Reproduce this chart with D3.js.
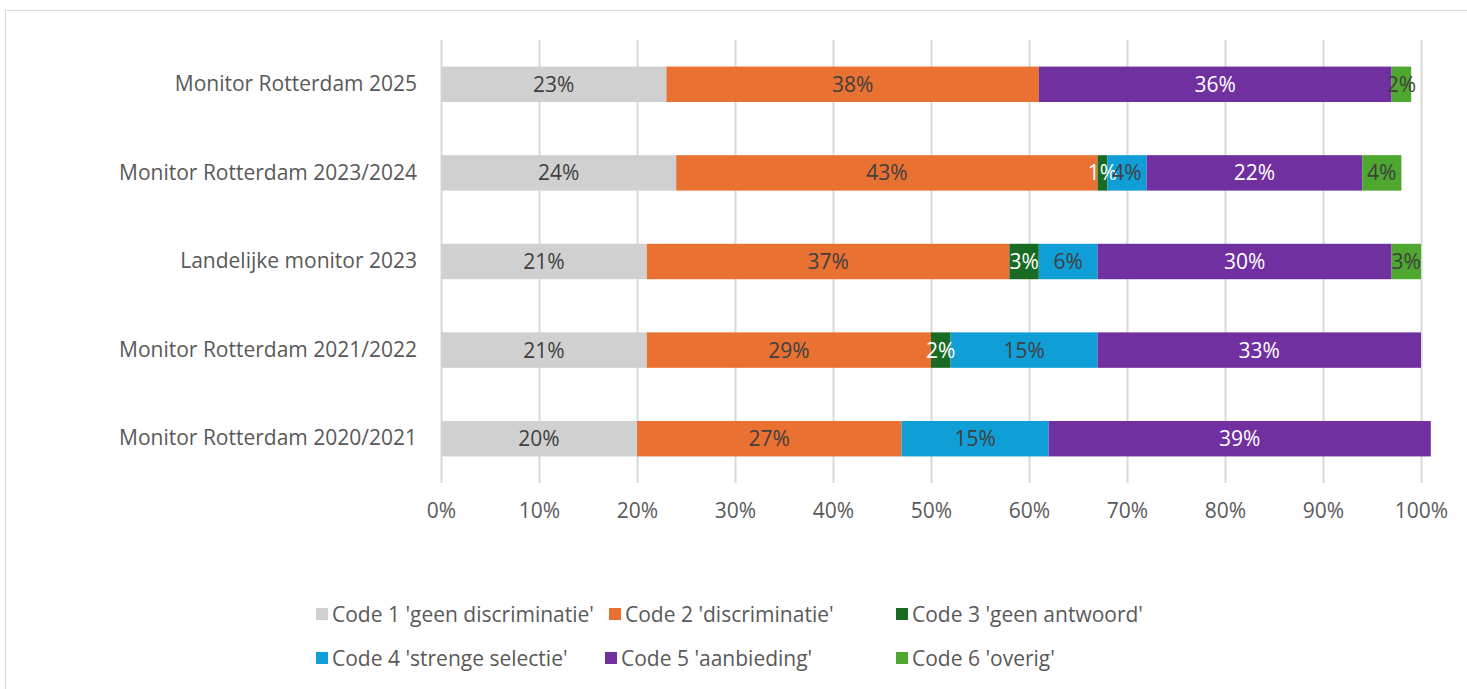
<!DOCTYPE html>
<html>
<head>
<meta charset="utf-8">
<script src="https://cdn.jsdelivr.net/npm/d3@7"></script>
<style>
  html, body { margin: 0; padding: 0; background: #fff; }
  svg { display: block; }
  text { font-family: "Open Sans", Lato, sans-serif; }
</style>
</head>
<body>
<svg id="chart" width="1467" height="689"></svg>
<script>
// Survey outcomes per monitor round (percent of responses)
const categories = [
  "Monitor Rotterdam 2025",
  "Monitor Rotterdam 2023/2024",
  "Landelijke monitor 2023",
  "Monitor Rotterdam 2021/2022",
  "Monitor Rotterdam 2020/2021"
];
const seriesNames = [
  "Code 1 'geen discriminatie'",
  "Code 2 'discriminatie'",
  "Code 3 'geen antwoord'",
  "Code 4 'strenge selectie'",
  "Code 5 'aanbieding'",
  "Code 6 'overig'"
];
const code1 = [23, 24, 21, 21, 20];
const code2 = [38, 43, 37, 29, 27];
const code3 = [0, 1, 3, 2, 0];
const code4 = [0, 4, 6, 15, 15];
const code5 = [36, 22, 30, 33, 39];
const code6 = [2, 4, 3, 0, 0];
const xTicks = [0, 10, 20, 30, 40, 50, 60, 70, 80, 90, 100];

const colors = ["#D0D0D0", "#E97132", "#196B24", "#0F9ED5", "#7030A0", "#4EA72E"];
const labelColors = ["#404040", "#404040", "#ffffff", "#404040", "#ffffff", "#404040"];

const FONT = "'Open Sans', Lato, sans-serif";
const FS = "21px";

const seriesValues = [code1, code2, code3, code4, code5, code6];
const rows = categories.map((c, i) => {
  const r = { category: c };
  seriesNames.forEach((s, j) => { r[s] = seriesValues[j][i]; });
  return r;
});

const svg = d3.select("#chart");

// outer chart frame
svg.append("rect")
  .attr("x", 5.5).attr("y", 10.5)
  .attr("width", 1466).attr("height", 690)
  .attr("fill", "none").attr("stroke", "#D9D9D9").attr("stroke-width", 1);

const plot = { left: 441, right: 1421, top: 40, bottom: 483 };

const x = d3.scaleLinear().domain([0, 100]).range([plot.left, plot.right]);
const y = d3.scaleBand().domain(categories).range([plot.top, plot.bottom]).paddingInner(0.6).paddingOuter(0.3);

// vertical gridlines
svg.append("g")
  .selectAll("line")
  .data(xTicks)
  .join("line")
  .attr("x1", d => Math.round(x(d)) + 0.5)
  .attr("x2", d => Math.round(x(d)) + 0.5)
  .attr("y1", plot.top).attr("y2", plot.bottom)
  .attr("stroke", "#D9D9D9").attr("stroke-width", 2);

// x axis labels
const xAxis = d3.axisBottom(x).tickValues(xTicks).tickFormat(d => d + "%").tickSize(0).tickPadding(20);
const xg = svg.append("g").attr("transform", `translate(0,${plot.bottom})`).call(xAxis);
xg.select(".domain").remove();
xg.selectAll("text").attr("fill", "#595959").style("font-size", FS).style("font-family", FONT);

// y axis labels
const yAxis = d3.axisLeft(y).tickSize(0).tickPadding(24);
const yg = svg.append("g").attr("transform", `translate(${plot.left},0)`).call(yAxis);
yg.select(".domain").remove();
yg.selectAll("text").attr("fill", "#595959").style("font-size", FS).style("font-family", FONT);

// stacked bars
const stack = d3.stack().keys(seriesNames);
const stacked = stack(rows);

const layers = svg.append("g").selectAll("g")
  .data(stacked)
  .join("g")
  .attr("fill", (d, i) => colors[i]);

layers.selectAll("rect")
  .data(d => d.filter(s => s[1] - s[0] > 0))
  .join("rect")
  .attr("x", d => x(d[0]))
  .attr("y", d => y(d.data.category))
  .attr("width", d => x(d[1]) - x(d[0]))
  .attr("height", y.bandwidth());

// value labels
stacked.forEach((layer, i) => {
  svg.append("g").selectAll("text")
    .data(layer.filter(s => s[1] - s[0] > 0))
    .join("text")
    .attr("x", d => (x(d[0]) + x(d[1])) / 2)
    .attr("y", d => y(d.data.category) + y.bandwidth() / 2)
    .attr("dy", "0.36em")
    .attr("text-anchor", "middle")
    .attr("fill", labelColors[i])
    .style("font-size", FS)
    .text(d => (d[1] - d[0]) + "%");
});

// legend
const legendPos = [
  [316, 614], [609, 614], [896, 614],
  [316, 658], [605, 658], [896, 658]
];
const legend = svg.append("g").selectAll("g")
  .data(seriesNames)
  .join("g")
  .attr("transform", (d, i) => `translate(${legendPos[i][0]},${legendPos[i][1]})`);
legend.append("rect")
  .attr("x", 0).attr("y", -6).attr("width", 12).attr("height", 12)
  .attr("fill", (d, i) => colors[i]);
legend.append("text")
  .attr("x", 16).attr("dy", "0.36em")
  .attr("fill", "#595959")
  .style("font-size", FS)
  .text(d => d);
</script>
</body>
</html>
